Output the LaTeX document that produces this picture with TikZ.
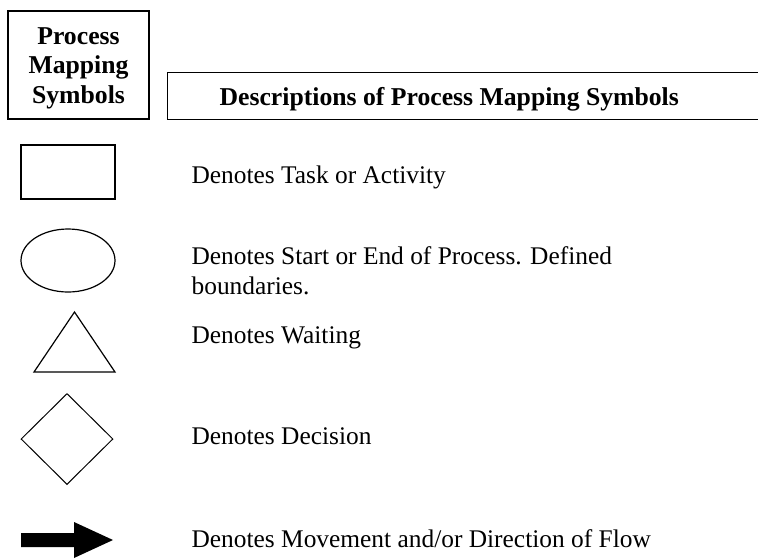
\documentclass[tikz,border=0pt]{standalone}
\usepackage{fontspec}
\setmainfont{Liberation Serif}
\usetikzlibrary{positioning, shapes.geometric}

\tikzset{
  headbox/.style={draw, inner sep=0pt},
  headtext/.style={inner sep=0pt, font=\fontsize{25.7}{29.5}\selectfont\bfseries, align=center},
  symbol/.style={draw, inner sep=0pt},
  desc/.style={anchor=base west, inner sep=0pt, font=\fontsize{25.4}{30}\selectfont, align=left}
}

\begin{document}
\begin{tikzpicture}[x=1pt, y=-1pt, line width=1.2pt]
\useasboundingbox (0,0) rectangle (758,558);

% headings
\node[headbox, minimum width=141pt, minimum height=108pt] (symbox) at (78.5,65) {};
\node[headtext, anchor=north] (symtext) at (78.5,27) {Process\\Mapping\\Symbols};
\node[headbox, anchor=north west, minimum width=600pt, minimum height=47pt] (descbox) at (167,72) {};
\node[headtext, anchor=base west] (desctext) at (219,105) {Descriptions of Process Mapping Symbols};

% symbols
\node[symbol, rectangle, minimum width=94pt, minimum height=54pt] (task) at (68,172) {};
\node[symbol, ellipse, minimum width=94pt, minimum height=63pt] (start) at (68,260.5) {};
\coordinate (waitA) at (74.5,312);
\coordinate (waitB) at (115,372);
\coordinate (waitC) at (34,372);
\draw[line join=miter] (waitA) -- (waitB) -- (waitC) -- cycle;
\node[symbol, diamond, minimum width=92pt, minimum height=91pt, line width=1pt] (decision) at (67,439) {};
\fill (21,533) -- (74,533) -- (74,522) -- (113,540) -- (74,558) -- (74,547) -- (21,547) -- cycle;

% descriptions
\node[desc] (taskdesc) at (191,183) {Denotes Task or Activity};
\node[desc, anchor=north west] (startdesc) at (191,246) {Denotes Start or End of Process. Defined\\boundaries.};
\node[desc] (waitdesc) at (191,343) {Denotes Waiting};
\node[desc] (decisiondesc) at (191,444) {Denotes Decision};
\node[desc] (flowdesc) at (191,547) {Denotes Movement and/or Direction of Flow};
\end{tikzpicture}
\end{document}
